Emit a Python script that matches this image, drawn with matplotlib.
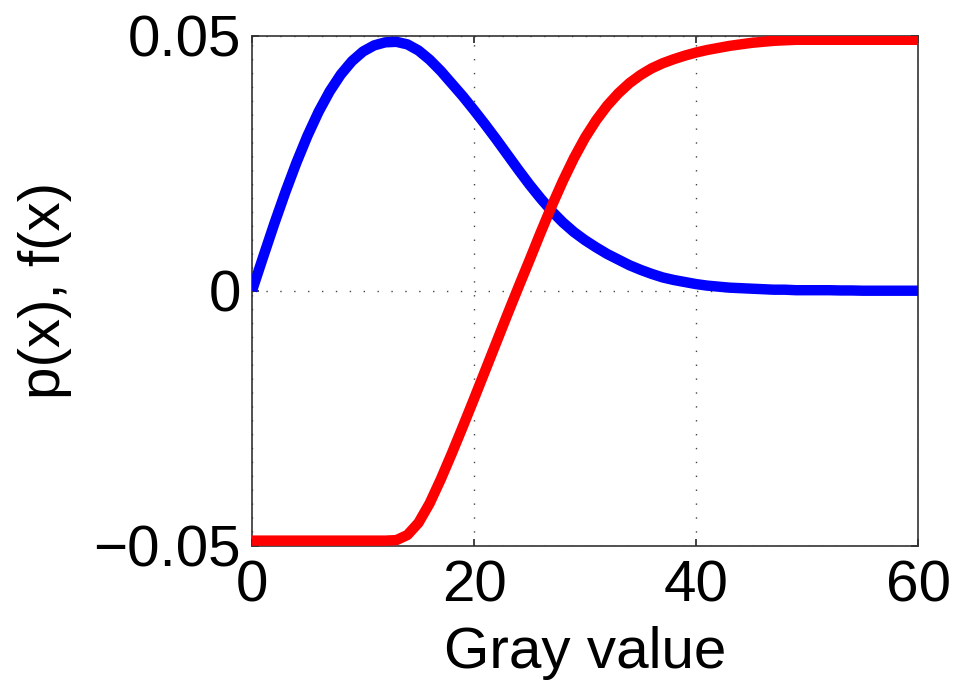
import matplotlib
matplotlib.use("Agg")
import matplotlib.pyplot as plt

plt.rcParams['font.family'] = ['Liberation Sans', 'DejaVu Sans']

# Gray values 0..60
gray = list(range(61))

# p(x): probability density of the gray value
p_values = [
    0.0000, 0.0066, 0.0131, 0.0193, 0.0251, 0.0304, 0.0351, 0.0391, 0.0424, 0.0450,
    0.0469, 0.0481, 0.0487, 0.0488, 0.0483, 0.0471, 0.0453, 0.0431, 0.0406, 0.0381,
    0.0354, 0.0326, 0.0297, 0.0267, 0.0237, 0.0208, 0.0181, 0.0156, 0.0134, 0.0115,
    0.0099, 0.0085, 0.0072, 0.0061, 0.0050, 0.0041, 0.0033, 0.0026, 0.0021, 0.0017,
    0.0013, 0.0010, 0.0008, 0.0006, 0.0005, 0.0004, 0.0003, 0.0002, 0.0002, 0.0001,
    0.0001, 0.0001, 0.0001, 0.00005, 0.00005, 0.0, 0.0, 0.0, 0.0, 0.0, 0.0,
]

# f(x): transfer function
f_values = [
    -0.0490, -0.0490, -0.0490, -0.0490, -0.0490, -0.0490, -0.0490, -0.0490, -0.0490, -0.0490,
    -0.0490, -0.0490, -0.0490, -0.0489, -0.0479, -0.0455, -0.0417, -0.0370, -0.0319, -0.0266,
    -0.0212, -0.0157, -0.0102, -0.0047, 0.0007, 0.0060, 0.0114, 0.0166, 0.0215, 0.0260,
    0.0300, 0.0334, 0.0363, 0.0387, 0.0407, 0.0423, 0.0436, 0.0446, 0.0454, 0.0461,
    0.0467, 0.0472, 0.0476, 0.0480, 0.0483, 0.0486, 0.0488, 0.0490, 0.0491, 0.0492,
    0.0492, 0.0492, 0.0492, 0.0492, 0.0492, 0.0492, 0.0492, 0.0492, 0.0492, 0.0492, 0.0492,
]

xticks = [0, 20, 40, 60]
xtick_labels = ['0', '20', '40', '60']
yticks = [-0.05, 0, 0.05]
ytick_labels = ['\u22120.05', '0', '0.05']

fig = plt.figure(figsize=(9.55, 6.88), dpi=100)
ax = fig.add_axes([0.2639, 0.2068, 0.6974, 0.7413])

ax.plot(gray, p_values, color='#0000ff', lw=7.5, solid_capstyle='butt',
        solid_joinstyle='round', zorder=3)
ax.plot(gray, f_values, color='#ff0000', lw=7.5, solid_capstyle='butt',
        solid_joinstyle='round', zorder=4)

ax.set_xlim(0, 60)
ax.set_ylim(-0.05, 0.05)
ax.set_xticks(xticks, labels=xtick_labels)
ax.set_yticks(yticks, labels=ytick_labels)

ax.grid(True, color='#444444', linestyle=(0, (1, 9)), linewidth=1.0)
ax.set_axisbelow(True)

ax.tick_params(direction='in', length=5, width=1.2, colors='#222222',
               labelcolor='black', labelsize=42, top=True, right=True)
ax.tick_params(axis='x', pad=10)
ax.tick_params(axis='y', pad=8)
for s in ax.spines.values():
    s.set_color('#333333')
    s.set_linewidth(1.2)

ax.set_xlabel('Gray value', fontsize=42, labelpad=9)
ax.set_ylabel('p(x), f(x)', fontsize=42, labelpad=15)

fig.savefig('out.png', dpi=100, facecolor='white')
